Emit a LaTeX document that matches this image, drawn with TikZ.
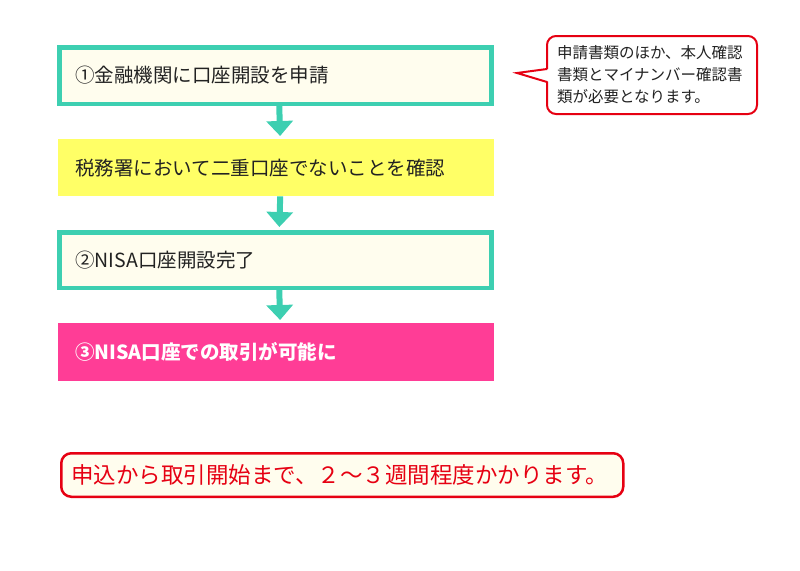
\documentclass[tikz,border=0pt]{standalone}
\usepackage{fontspec}
\setmainfont{Noto Sans CJK JP}
\usepackage{tikz}
\usetikzlibrary{arrows.meta}
\definecolor{flowT}{HTML}{3DCFB1}
\definecolor{cream}{HTML}{FFFDEE}
\definecolor{hiYel}{HTML}{FFFF66}
\definecolor{hiPink}{HTML}{FF3D96}
\definecolor{alert}{HTML}{E60012}
\definecolor{ink}{HTML}{222222}
\tikzset{
  stepbox/.style={anchor=north west,text width=402pt,inner xsep=16pt,align=left,
    minimum height=#1,text=ink,font=\fontsize{19.5}{22}\selectfont},
  framed/.style={draw=flowT,line width=4.5pt,fill=cream},
  flowarrow/.style={flowT,line width=6pt,shorten >=3pt,-{Triangle[length=15pt,width=26pt]}},
  callout/.style={anchor=north west,draw=alert,line width=2pt,rounded corners=9pt,
    fill=white,text=ink,align=left,text width=190pt,inner xsep=10pt,
    minimum height=78pt,font=\fontsize{15.5}{22}\selectfont}
}
\begin{document}
\begin{tikzpicture}[x=1pt,y=-1pt]
\useasboundingbox (0,0) rectangle (800,570);
\node[stepbox=56.5pt,framed,text width=400pt] (s1) at (57,45) {①金融機関に口座開設を申請};
\node[stepbox=57pt,fill=hiYel,inner xsep=17pt] (s2) at (58,139) {税務署において二重口座でないことを確認};
\node[stepbox=55.5pt,framed,text width=400pt] (s3) at (57,230) {②NISA口座開設完了};
\node[stepbox=58pt,fill=hiPink,inner xsep=17pt,text=white,font=\fontsize{19.5}{22}\selectfont\bfseries] (s4) at (58,323) {③NISA口座での取引が可能に};

\draw[flowarrow] ([xshift=4pt]s1.south) -- ([xshift=4pt]s2.north);
\draw[flowarrow] ([xshift=4pt]s2.south) -- ([xshift=4pt]s3.north);
\draw[flowarrow] ([xshift=4pt]s3.south) -- ([xshift=4pt]s4.north);

% speech bubble
\node[callout] (note) at (546,35) {申請書類のほか、本人確認\\書類とマイナンバー確認書\\類が必要となります。};
\coordinate (tip) at (517,73);
\fill[white] (tip) -- ([xshift=4pt,yshift=6pt]note.west) -- ([xshift=4pt,yshift=-7pt]note.west) -- cycle;
\draw[alert,line width=2pt] ([xshift=1pt,yshift=6pt]note.west) -- (tip) -- ([xshift=1pt,yshift=-7pt]note.west);

\node[anchor=north west,draw=alert,line width=2.5pt,rounded corners=10pt,fill=cream,
  text=alert,text width=542pt,inner xsep=10pt,align=left,minimum height=43.5pt,
  font=\fontsize{22.5}{24}\selectfont] (total) at (60,452) {申込から取引開始まで、２～３週間程度かかります。};
\end{tikzpicture}
\end{document}
